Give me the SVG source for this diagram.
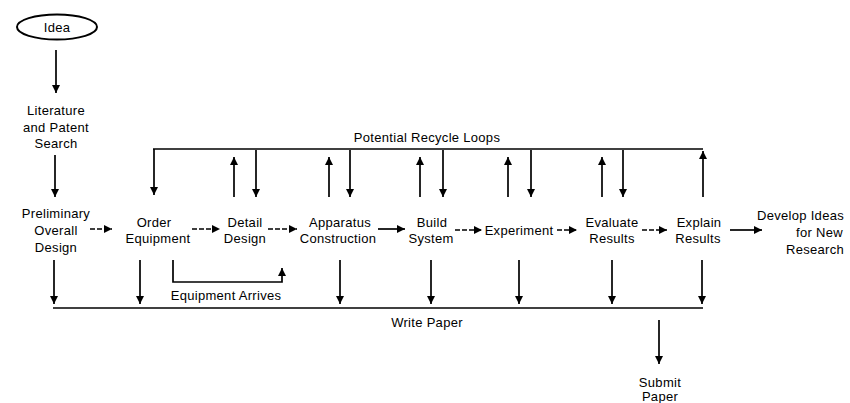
<svg xmlns="http://www.w3.org/2000/svg" width="850" height="403" viewBox="0 0 850 403">
<style>
text{font-family:"Liberation Sans",Arial,sans-serif;font-size:13px;fill:#000;text-anchor:middle;letter-spacing:0.3px}
.c{fill:none;stroke:#000;stroke-width:1.7}
.a{marker-end:url(#ah)}
.d{stroke-dasharray:5 2}
</style>
<defs>
<marker id="ah" viewBox="0 0 10 10" refX="10" refY="5" markerWidth="10" markerHeight="8" markerUnits="userSpaceOnUse" orient="auto">
<path d="M0,0 L10,5 L0,10 z" fill="#000"/>
</marker>
</defs>
<rect width="850" height="403" fill="#fff"/>
<g id="idea">
<ellipse cx="57" cy="27" rx="40" ry="12.5" fill="none" stroke="#000" stroke-width="2"/>
<text x="57" y="31.5">Idea</text>
</g>
<g id="literature">
<text x="56" y="114.5">Literature</text>
<text x="56" y="131.5">and Patent</text>
<text x="56" y="147.5">Search</text>
</g>
<g id="preliminary">
<text x="56" y="217.5">Preliminary</text>
<text x="56" y="234.5">Overall</text>
<text x="56" y="251.5">Design</text>
</g>
<g id="order">
<text x="154" y="226.5">Order</text>
<text x="158" y="242.5">Equipment</text>
</g>
<g id="detail">
<text x="245" y="226.5">Detail</text>
<text x="245" y="242.5">Design</text>
</g>
<g id="apparatus">
<text x="340" y="226.5">Apparatus</text>
<text x="338" y="242.5">Construction</text>
</g>
<g id="build">
<text x="432" y="226.5">Build</text>
<text x="431" y="242.5">System</text>
</g>
<g id="experiment">
<text x="519" y="234.5">Experiment</text>
</g>
<g id="evaluate">
<text x="612" y="226.5">Evaluate</text>
<text x="612" y="242.5">Results</text>
</g>
<g id="explain">
<text x="699" y="226.5">Explain</text>
<text x="698" y="242.5">Results</text>
</g>
<g id="develop">
<text x="844" y="219.5" style="text-anchor:end">Develop Ideas</text>
<text x="843" y="236.5" style="text-anchor:end">for New</text>
<text x="844" y="253.5" style="text-anchor:end">Research</text>
</g>
<g id="write-paper">
<text x="427" y="326.5">Write Paper</text>
</g>
<g id="submit">
<text x="660" y="386.5">Submit</text>
<text x="660" y="401">Paper</text>
</g>
<g id="connectors">
<line class="c a" x1="56" y1="50" x2="56" y2="93"/>
<line class="c a" x1="55" y1="155" x2="55" y2="197"/>
<line class="c a d" x1="90" y1="229" x2="112" y2="229"/>
<line class="c a d" x1="192" y1="229" x2="220" y2="229"/>
<line class="c a d" x1="268" y1="229" x2="297" y2="229"/>
<line class="c a" x1="378" y1="229" x2="405" y2="229"/>
<line class="c a d" x1="455" y1="230" x2="482" y2="230"/>
<line class="c a d" x1="557" y1="230" x2="577" y2="230"/>
<line class="c a d" x1="642" y1="230" x2="667" y2="230"/>
<line class="c a" x1="730" y1="230" x2="762" y2="230"/>
<g id="recycle-loops">
<text x="427" y="142">Potential Recycle Loops</text>
<line class="c" x1="153" y1="149" x2="703" y2="149"/>
<line class="c a" x1="154" y1="149" x2="154" y2="195"/>
<line class="c a" x1="234" y1="197" x2="234" y2="157"/>
<line class="c a" x1="256" y1="150" x2="256" y2="197"/>
<line class="c a" x1="329" y1="197" x2="329" y2="157"/>
<line class="c a" x1="350" y1="150" x2="350" y2="197"/>
<line class="c a" x1="420" y1="197" x2="420" y2="157"/>
<line class="c a" x1="443" y1="150" x2="443" y2="197"/>
<line class="c a" x1="508" y1="197" x2="508" y2="157"/>
<line class="c a" x1="531" y1="150" x2="531" y2="197"/>
<line class="c a" x1="602" y1="197" x2="602" y2="157"/>
<line class="c a" x1="623" y1="150" x2="623" y2="197"/>
<line class="c a" x1="703" y1="197" x2="703" y2="151"/>
</g>
<g id="equipment-arrives">
<path class="c a" d="M173,260 V282 H282 V268"/>
<text x="226" y="299.5">Equipment Arrives</text>
</g>
<g id="to-write-paper">
<line class="c" x1="53" y1="308" x2="703" y2="308"/>
<line class="c a" x1="54" y1="260" x2="54" y2="304"/>
<line class="c a" x1="140" y1="260" x2="140" y2="304"/>
<line class="c a" x1="340" y1="260" x2="340" y2="304"/>
<line class="c a" x1="431" y1="260" x2="431" y2="304"/>
<line class="c a" x1="519" y1="260" x2="519" y2="304"/>
<line class="c a" x1="612" y1="260" x2="612" y2="304"/>
<line class="c a" x1="702" y1="260" x2="702" y2="304"/>
<line class="c a" x1="659" y1="320" x2="659" y2="364"/>
</g>
</g>
</svg>
